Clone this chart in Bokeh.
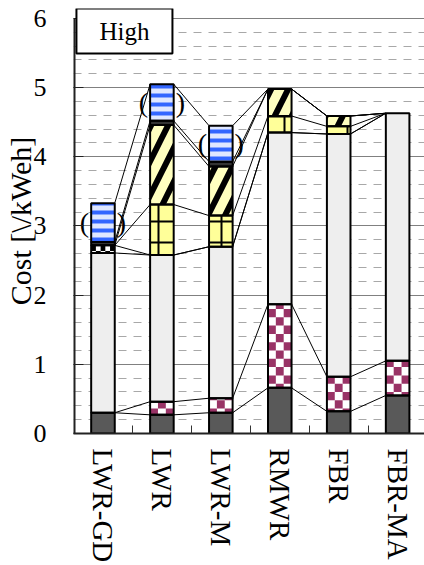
import numpy as np
from bokeh.plotting import figure
from bokeh.models import (ColumnDataSource, FixedTicker, SingleIntervalTicker,
                          Label, Range1d)
from bokeh.core.properties import value
from bokeh.embed import file_html
from bokeh.resources import INLINE

# ---- data (segment heights, bottom to top) ----
categories = ["LWR-GD", "LWR", "LWR-M", "RMWR", "FBR", "FBR-MA"]
dark_seg   = [0.30, 0.27, 0.30, 0.66, 0.32, 0.55]
maroon_seg = [0.00, 0.19, 0.21, 1.21, 0.50, 0.50]
light_seg  = [2.31, 2.12, 2.19, 2.48, 3.51, 3.58]
bw_seg     = [0.11, 0.00, 0.00, 0.00, 0.00, 0.00]
grid_seg   = [0.00, 0.73, 0.45, 0.24, 0.11, 0.00]
hatch_seg  = [0.00, 1.15, 0.71, 0.39, 0.15, 0.00]
band_seg   = [0.05, 0.06, 0.07, 0.00, 0.00, 0.00]
blue_seg   = [0.56, 0.53, 0.52, 0.00, 0.00, 0.00]
panel_title = "High"
y_label = "Cost [\\/kWeh]"
y_max = 6

FONT = "Liberation Serif"
W = 0.4
xs = np.arange(len(categories), dtype=float)

segments = [
    dict(v=dark_seg,   fill="#595959"),
    dict(v=maroon_seg, fill="white", checker=("#993366", 3, 0.12)),
    dict(v=light_seg,  fill="#eeeeee"),
    dict(v=bw_seg,     fill="white", checker=("black", 5, 0.12)),
    dict(v=grid_seg,   fill="#ffff99", hatch=("cross", 21, 2, "black")),
    dict(v=hatch_seg,  fill="#ffffc0", hatch=("right_diagonal_line", 34, 6, "black")),
    dict(v=band_seg,   fill="#333333"),
    dict(v=blue_seg,   fill="#dfe7ff", hatch=("horizontal_line", 9, 4, "#3366ff")),
]

# extra headroom above 6 so the title box can sit over the frame's top edge
p = figure(width=424, height=565, x_range=Range1d(-0.5, 5.456), y_range=Range1d(0, 6.144),
           output_backend="svg", toolbar_location=None,
           min_border_left=69, min_border_right=0, min_border_top=8, min_border_bottom=130)
p.outline_line_color = None
p.background_fill_color = "white"
p.border_fill_color = "white"

# grid
p.xgrid.visible = False
yt = SingleIntervalTicker(interval=1, num_minor_ticks=5)
p.yaxis.ticker = yt
p.ygrid.ticker = yt
p.ygrid.grid_line_color = "#808080"
p.ygrid.grid_line_width = 1
p.ygrid.minor_grid_line_color = "#a8a8a8"
p.ygrid.minor_grid_line_dash = "8 7"

# stacked segments
bottoms = np.zeros(len(categories))
cum_tops = []
for seg in segments:
    v = np.array(seg["v"], dtype=float)
    tops = bottoms + v
    cum_tops.append(tops.copy())
    m = v > 0
    src = ColumnDataSource(dict(x=xs[m], b=bottoms[m], t=tops[m]))
    kw = dict(x="x", bottom="b", top="t", width=W, source=src,
              fill_color=seg["fill"], line_color=None)
    if "hatch" in seg:
        pat, sc, wt, col = seg["hatch"]
        kw.update(hatch_pattern=pat, hatch_scale=sc, hatch_weight=wt, hatch_color=col)
    p.vbar(**kw)
    if "checker" in seg:
        col, ncols, ch = seg["checker"]
        L, R, B, T = [], [], [], []
        cw = W / ncols
        for xi, b, t in zip(xs[m], bottoms[m], tops[m]):
            r0 = int(np.floor(b / ch)); r1 = int(np.ceil(t / ch))
            for r in range(r0, r1):
                y0 = max(b, r * ch); y1 = min(t, (r + 1) * ch)
                if y1 <= y0:
                    continue
                for c in range(ncols):
                    if (r + c) % 2 == 0:
                        L.append(xi - W / 2 + c * cw); R.append(xi - W / 2 + (c + 1) * cw)
                        B.append(y0); T.append(y1)
        p.quad(left=L, right=R, bottom=B, top=T, fill_color=col, line_color=None)
    seg["bottoms"] = bottoms.copy()
    seg["tops"] = tops.copy()
    bottoms = tops

# outlines
for seg in segments:
    v = np.array(seg["v"]); m = v > 0
    p.vbar(x=xs[m], bottom=seg["bottoms"][m], top=seg["tops"][m], width=W,
           fill_alpha=0, line_color="black", line_width=2)

# connecting lines
lx, ly = [], []
for i in range(len(categories) - 1):
    for tops in cum_tops:
        lx.append([xs[i] + W / 2, xs[i + 1] - W / 2])
        ly.append([tops[i], tops[i + 1]])
p.multi_line(xs=lx, ys=ly, line_color="black", line_width=1)

# parentheses around optional (blue) part
blue = segments[-1]
bm = np.array(blue_seg) > 0
mid = (blue["bottoms"] + blue["tops"]) / 2
p.text(x=xs[bm] - W / 2, y=mid[bm], text=["("] * int(bm.sum()), text_align="right",
       text_baseline="middle", x_offset=-2, text_font=value(FONT), text_font_size="28px")
p.text(x=xs[bm] + W / 2, y=mid[bm], text=[")"] * int(bm.sum()), text_align="left",
       text_baseline="middle", x_offset=2, text_font=value(FONT), text_font_size="28px")

# axes
ax = p.xaxis[0]
ax.ticker = FixedTicker(ticks=list(xs), minor_ticks=list(xs[:-1] + 0.5))
ax.major_label_overrides = {int(i): c for i, c in enumerate(categories)}
ax.major_label_orientation = "vertical"
ax.major_label_text_font = FONT
ax.major_label_text_font_size = "29px"
ax.major_label_text_color = "black"
ax.major_label_standoff = 15
ax.major_tick_in = 0
ax.major_tick_out = 0
ax.minor_tick_in = 8
ax.minor_tick_out = 0
ax.minor_tick_line_color = "#333333"
ax.axis_line_width = 2
ax.axis_line_color = "#222222"

ay = p.yaxis[0]
ay.axis_label = y_label
ay.axis_label_text_font = FONT
ay.axis_label_text_font_style = "normal"
ay.axis_label_text_font_size = "30px"
ay.axis_label_text_color = "black"
ay.axis_label_standoff = -6
ay.major_label_text_font = FONT
ay.major_label_text_font_size = "26px"
ay.major_label_text_color = "black"
ay.major_label_standoff = 23
ay.major_tick_in = 10
ay.major_tick_out = 0
ay.major_tick_line_color = "#222222"
ay.minor_tick_line_color = None
ay.axis_line_color = None
# left axis line only up to the top tick value
p.segment(x0=[p.x_range.start], y0=[0], x1=[p.x_range.start], y1=[y_max],
          line_color="#222222", line_width=4)

# "High" box
p.add_layout(Label(x=p.x_range.start + 0.05, y=p.y_range.end, text=panel_title,
                   anchor="top_left", text_font=FONT, text_font_size="25px",
                   text_color="black", padding=(23, 9), border_line_color="black",
                   border_line_width=2, background_fill_color="white"))

open("out.html", "w").write(file_html(p, INLINE))
